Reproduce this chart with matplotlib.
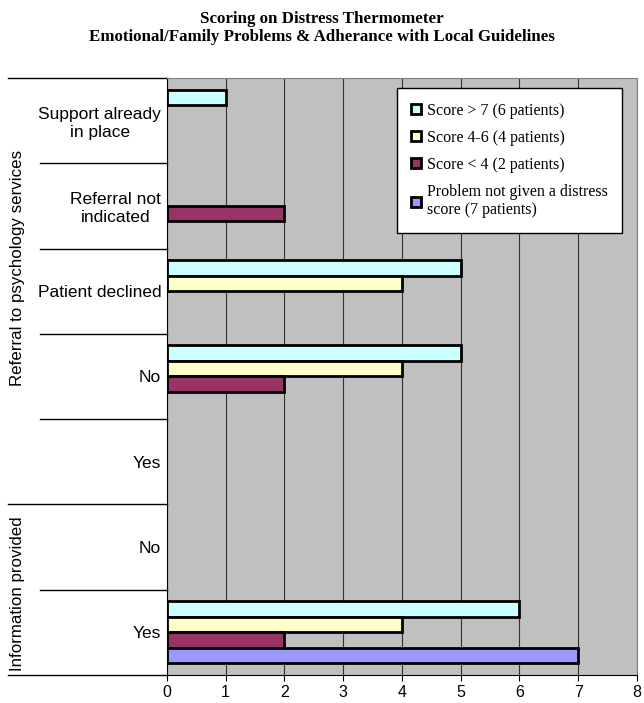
import matplotlib.pyplot as plt
import numpy as np

categories = ["Yes", "No", "Yes", "No", "Patient declined",
              "Referral not\nindicated", "Support already\nin place"]
score_high = [6, 0, 0, 5, 5, 0, 1]
score_mid = [4, 0, 0, 4, 4, 0, 0]
score_low = [2, 0, 0, 2, 0, 2, 0]
no_score = [7, 0, 0, 0, 0, 0, 0]
series_labels = ["Score > 7 (6 patients)", "Score 4-6 (4 patients)",
                 "Score < 4 (2 patients)",
                 "Problem not given a distress\nscore (7 patients)"]
colors = ["#CCFFFF", "#FFFFCC", "#993366", "#9999FF"]
groups = [("Information provided", 0.45), ("Referral to psychology services", 4.27)]

fig = plt.figure(figsize=(6.44, 7.03), dpi=100)
ax = fig.add_axes([0.259, 0.040, 0.730, 0.849])
ax.set_facecolor("#C0C0C0")

y = np.arange(len(categories))
h = 0.182
offsets = [1.5 * h, 0.5 * h, -0.5 * h, -1.5 * h]
for vals, off, col, lab in zip([score_high, score_mid, score_low, no_score],
                               offsets, colors, series_labels):
    vals = np.array(vals, dtype=float)
    m = vals > 0
    ax.barh(y[m] + off, vals[m], height=h, color=col, edgecolor="black",
            linewidth=2, zorder=3)
    ax.barh([np.nan], [np.nan], height=h, color=col, edgecolor="black",
            linewidth=2, label=lab)

ax.set_xlim(0, 8)
ax.set_ylim(-0.5, len(categories) - 0.5)
ax.set_xticks(range(9))
ax.tick_params(axis="x", direction="out", length=4, labelsize=11.5, pad=3)
ax.xaxis.grid(True, color="#303030", linewidth=0.8, zorder=1)
ax.set_axisbelow(True)

ax.set_yticks(y)
ax.set_yticklabels(categories, fontsize=12.5, family="Liberation Sans")
for t in ax.get_yticklabels():
    t.set_multialignment("center")
ax.tick_params(axis="y", length=0, pad=4)
for t in ax.get_xticklabels():
    t.set_family("Liberation Sans")

for s in ["top", "right"]:
    ax.spines[s].set_color("#808080")
for s in ["left", "bottom"]:
    ax.spines[s].set_color("black")

# group separators and labels
tr = ax.get_yaxis_transform()
for k in range(len(categories) + 1):
    yy = k - 0.5
    x0 = -0.338 if yy in (-0.5, 1.5, 6.5) else -0.270
    ax.plot([x0, 0], [yy, yy], color="black", linewidth=1,
            transform=tr, clip_on=False)
for name, yc in groups:
    ax.text(-0.318, yc, name, transform=tr, rotation=90,
            ha="center", va="center", fontsize=12.2, family="Liberation Sans")

leg = ax.legend(loc="upper right", bbox_to_anchor=(0.968, 0.983),
                prop={"family": "Liberation Serif", "size": 11.5},
                frameon=True, fancybox=False, edgecolor="black",
                framealpha=1, handlelength=0.6, handleheight=0.6,
                handletextpad=0.35, labelspacing=0.7, borderpad=0.9,
                borderaxespad=0)
leg.get_frame().set_linewidth(1)

fig.suptitle("Scoring on Distress Thermometer\n"
             "Emotional/Family Problems & Adherance with Local Guidelines",
             y=0.985, fontsize=12.2, fontweight="bold", family="Liberation Serif",
             linespacing=1.2)

fig.savefig("out.png", dpi=100)
